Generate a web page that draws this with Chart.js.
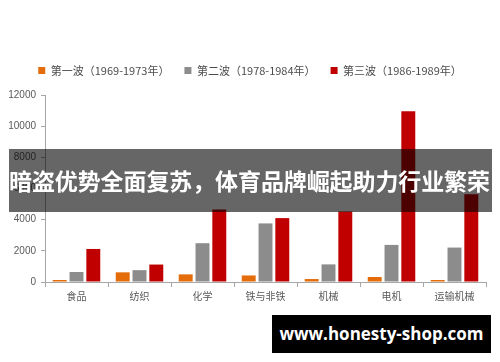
<!DOCTYPE html>
<html>
<head>
<meta charset="utf-8">
<script src="https://cdn.jsdelivr.net/npm/chart.js@4"></script>
<style>
  body { margin: 0; background: #fff; }
  #wrap { position: relative; width: 500px; height: 362px; }
  #banner {
    position: absolute; left: 9px; top: 149px; width: 483px; height: 63px;
    background: rgba(0, 0, 0, 0.6); color: #fff;
    font: bold 23px "Noto Sans CJK SC", sans-serif;
    line-height: 63px; white-space: nowrap; overflow: hidden; letter-spacing: -0.1px;
  }
  #mark {
    position: absolute; left: 272px; top: 315px; width: 219px; height: 38px;
    background: #000; color: #fff; text-align: center;
    font: bold 17px "Open Sans", sans-serif; line-height: 38px;
  }
</style>
</head>
<body>
<div id="wrap">
  <canvas id="chart" width="500" height="362"></canvas>
  <div id="banner">暗盗优势全面复苏，体育品牌崛起助力行业繁荣</div>
  <div id="mark">www.honesty-shop.com</div>
</div>
<script>
const categories = ['食品', '纺织', '化学', '铁与非铁', '机械', '电机', '运输机械'];
const wave1 = [130, 620, 490, 420, 190, 320, 130];
const wave2 = [640, 760, 2490, 3760, 1130, 2380, 2210];
const wave3 = [2120, 1120, 4650, 4100, 4530, 10950, 5630];
const seriesNames = ['第一波（1969-1973年）', '第二波（1978-1984年）', '第三波（1986-1989年）'];
const yTicks = [0, 2000, 4000, 6000, 8000, 10000, 12000];

const colors = ['#E46C0A', '#8C8C8C', '#C00000'];
const axisColor = '#A6A6A6';
const textColor = '#595959';

// legend sits a bit lower-right of where chart.js would centre it
const legendTweak = {
    id: 'legendTweak',
    beforeInit(chart) {
        const fit = chart.legend.fit;
        chart.legend.fit = function () {
            fit.call(this);
            this.height += 9;
        };
    },
    afterLayout(chart) {
        chart.legend.left += 7;
        chart.legend.right += 7;
    },
};

new Chart(document.getElementById('chart'), {
    type: 'bar',
    data: {
        labels: categories,
        datasets: [wave1, wave2, wave3].map((d, i) => ({
            label: seriesNames[i],
            data: d,
            backgroundColor: colors[i],
            categoryPercentage: 0.8,
            barPercentage: 0.83,
        })),
    },
    options: {
        responsive: false,
        animation: false,
        layout: { padding: { top: 50, right: 14, bottom: 57, left: 0 } },
        plugins: {
            tooltip: { enabled: false },
            legend: {
                position: 'top',
                labels: {
                    boxWidth: 7, boxHeight: 7, padding: 15,
                    color: '#4D4D4D',
                    font: { size: 11, family: '"Noto Sans CJK SC", sans-serif' },
                },
            },
        },
        scales: {
            x: {
                grid: { display: true, drawOnChartArea: false, tickLength: 5, color: axisColor },
                border: { color: axisColor },
                ticks: { color: textColor, font: { size: 10, family: '"Noto Sans CJK SC", sans-serif' }, padding: 3 },
            },
            y: {
                min: 0, max: 12000,
                afterBuildTicks: axis => { axis.ticks = yTicks.map(v => ({ value: v })); },
                afterFit: axis => { axis.width = 45; },
                grid: { display: true, drawOnChartArea: false, tickLength: 4, color: axisColor },
                border: { color: axisColor },
                ticks: {
                    color: textColor, padding: 5,
                    font: { size: 10, family: '"Liberation Sans", Arial, sans-serif' },
                    callback: v => String(v),
                },
            },
        },
    },
    plugins: [legendTweak],
});
</script>
</body>
</html>
